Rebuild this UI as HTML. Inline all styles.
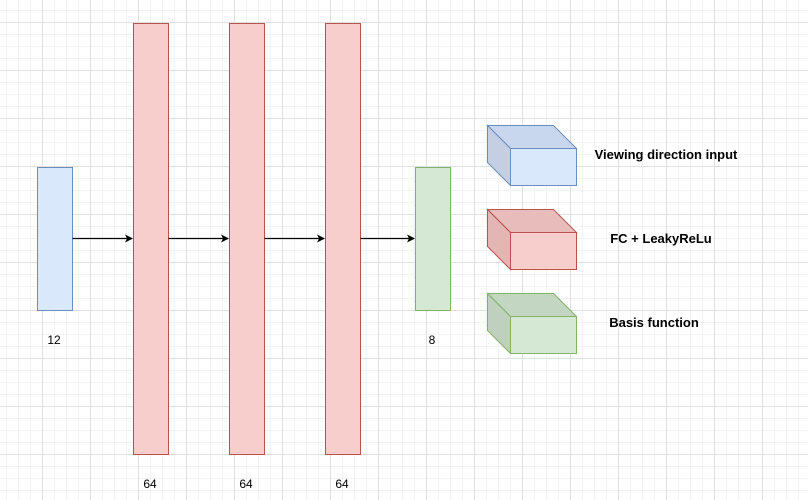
<!DOCTYPE html>
<html><head><style>
body{margin:0;width:808px;height:500px;overflow:hidden;background:#fff;
background-image:
linear-gradient(to right,#e0e0e0 1px,transparent 1px),
linear-gradient(to bottom,#e0e0e0 1px,transparent 1px),
linear-gradient(to right,#f3f3f3 1px,transparent 1px),
linear-gradient(to bottom,#f3f3f3 1px,transparent 1px);
background-size:48px 48px,48px 48px,12px 12px,12px 12px;
background-position:42px 22px,42px 22px,6px 10px,6px 10px;}
svg{position:absolute;left:0;top:0}
text{font-family:"Liberation Sans",sans-serif;font-size:12px}
.b{font-size:13px;font-weight:bold}
</style></head><body>
<svg width="808" height="500">
<defs><marker id="a" markerWidth="8" markerHeight="8" refX="7" refY="4" orient="auto" markerUnits="userSpaceOnUse"><path d="M0,0 L8,4 L0,8 L2,4z" fill="#000"/></marker></defs>
<rect x="37.5" y="167.5" width="35" height="143" fill="#dae8fc" stroke="#6c8ebf"/>
<rect x="133.5" y="23.5" width="35" height="431" fill="#f8cecc" stroke="#b85450"/>
<rect x="229.5" y="23.5" width="35" height="431" fill="#f8cecc" stroke="#b85450"/>
<rect x="325.5" y="23.5" width="35" height="431" fill="#f8cecc" stroke="#b85450"/>
<rect x="415.5" y="167.5" width="35" height="143" fill="#d5e8d4" stroke="#82b366"/>
<g stroke="#000" stroke-width="1.3" marker-end="url(#a)">
<line x1="72.5" y1="238.5" x2="132" y2="238.5"/>
<line x1="168.5" y1="238.5" x2="228" y2="238.5"/>
<line x1="264.5" y1="238.5" x2="324" y2="238.5"/>
<line x1="360.5" y1="238.5" x2="414" y2="238.5"/>
</g>
<text x="54" y="344" text-anchor="middle">12</text>
<text x="432" y="344" text-anchor="middle">8</text>
<text x="150" y="488" text-anchor="middle">64</text>
<text x="246" y="488" text-anchor="middle">64</text>
<text x="342" y="488" text-anchor="middle">64</text>
<path d="M487.5,125.5 L553.5,125.5 L576.5,148.5 L510.5,148.5z" fill="#c9d7ee" stroke="#6c8ebf"/>
<path d="M487.5,125.5 L510.5,148.5 L510.5,185.5 L487.5,162.5z" fill="#c4cfe3" stroke="#6c8ebf"/>
<rect x="510.5" y="148.5" width="66" height="37" fill="#dae8fc" stroke="#6c8ebf"/>
<path d="M487.5,209.5 L553.5,209.5 L576.5,232.5 L510.5,232.5z" fill="#e8bcba" stroke="#b85450"/>
<path d="M487.5,209.5 L510.5,232.5 L510.5,269.5 L487.5,246.5z" fill="#e3b5b3" stroke="#b85450"/>
<rect x="510.5" y="232.5" width="66" height="37" fill="#f8cecc" stroke="#b85450"/>
<path d="M487.5,293.5 L553.5,293.5 L576.5,316.5 L510.5,316.5z" fill="#c3d6c2" stroke="#82b366"/>
<path d="M487.5,293.5 L510.5,316.5 L510.5,353.5 L487.5,330.5z" fill="#bfd0be" stroke="#82b366"/>
<rect x="510.5" y="316.5" width="66" height="37" fill="#d5e8d4" stroke="#82b366"/>
<text class="b" x="666" y="159" text-anchor="middle">Viewing direction input</text>
<text class="b" x="661" y="243" text-anchor="middle">FC + LeakyReLu</text>
<text class="b" x="654" y="327" text-anchor="middle">Basis function</text>
</svg>
</body></html>
